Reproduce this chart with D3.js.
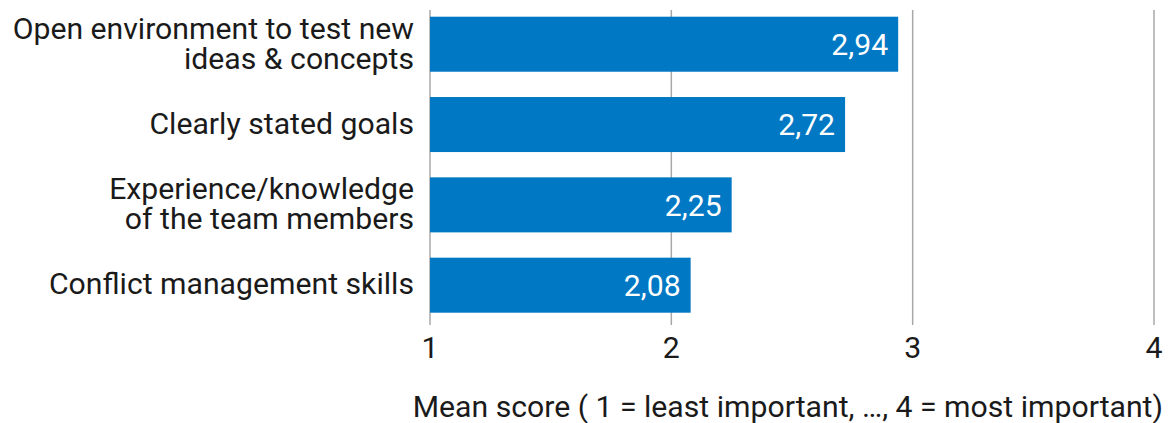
<!DOCTYPE html>
<html><head><meta charset="utf-8">
<script src="https://cdn.jsdelivr.net/npm/d3@7"></script>
<style>body{margin:0;background:#fff}svg{display:block;font-family:Roboto,sans-serif}</style>
</head><body><svg id="c" width="1172" height="423"></svg>
<script>
const categories = [["Open environment to test new","ideas & concepts"],["Clearly stated goals"],["Experience/knowledge","of the team members"],["Conflict management skills"]];
const values = [2.94, 2.72, 2.25, 2.08];
const ticks = [1, 2, 3, 4];
const axisTitle = "Mean score ( 1 = least important, …, 4 = most important)";

const svg = d3.select("#c");
const fs = 30.2;
const x = d3.scaleLinear().domain([1, 4]).range([430, 1154]);
const y = d3.scaleBand().domain(d3.range(categories.length)).range([16.7, 312.7]).paddingInner(0.315).paddingOuter(0);

svg.append("g").selectAll("line").data(ticks).join("line")
  .attr("x1", d => x(d)).attr("x2", d => x(d)).attr("y1", 10).attr("y2", 325)
  .attr("stroke", "#a8a8a8").attr("stroke-width", 1.5);

svg.append("g").selectAll("rect").data(values).join("rect")
  .attr("x", x(1)).attr("y", (d, i) => y(i)).attr("width", d => x(d) - x(1)).attr("height", y.bandwidth())
  .attr("fill", "#0078c3");

svg.append("g").selectAll("text").data(values).join("text")
  .attr("x", d => x(d) - 10).attr("y", (d, i) => y(i) + y.bandwidth() / 2 + 10.8)
  .attr("text-anchor", "end").attr("fill", "#fff").attr("font-size", fs)
  .text(d => d3.format(".2f")(d).replace(".", ","));

const cg = svg.append("g").selectAll("text").data(categories).join("text")
  .attr("text-anchor", "end").attr("font-size", fs).attr("fill", "#1a1a1a")
  .attr("x", 414).attr("y", (d, i) => y(i) + y.bandwidth() / 2);
cg.selectAll("tspan").data(d => d.map((t, j) => ({t, j, n: d.length}))).join("tspan")
  .attr("x", 414).attr("dy", d => d.j === 0 ? (9.3 - (d.n - 1) * 15) : 30)
  .text(d => d.t);

svg.append("g").selectAll("text").data(ticks).join("text")
  .attr("x", d => x(d)).attr("y", 358).attr("text-anchor", "middle")
  .attr("font-size", fs).attr("fill", "#1a1a1a").text(d => d);

svg.append("text").attr("x", 1163).attr("y", 417).attr("text-anchor", "end")
  .attr("font-size", fs).attr("fill", "#1a1a1a").text(axisTitle);
</script></body></html>
